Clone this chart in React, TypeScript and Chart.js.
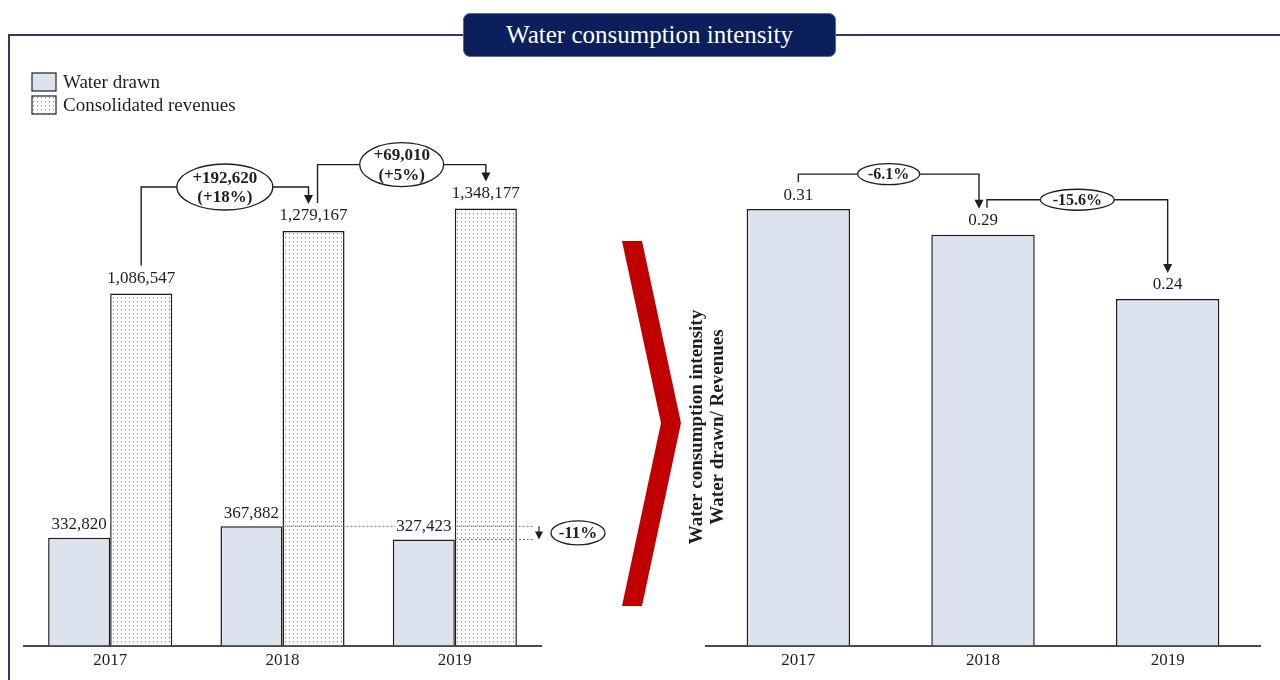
import React, { useEffect, useRef } from "react";
import { Chart, registerables } from "chart.js";
Chart.register(...registerables);

// ---------- data ----------
const years = ["2017", "2018", "2019"];
const waterDrawn = [332820, 367882, 327423];
const revenues = [1086547, 1279167, 1348177];
const intensity = [0.306, 0.288, 0.243];
const revenueChangeAbs = ["+192,620", "+69,010"];
const revenueChangePct = ["(+18%)", "(+5%)"];
const waterChangePct = "-11%";
const intensityChangePct = ["-6.1%", "-15.6%"];
const legendLabels = ["Water drawn", "Consolidated revenues"];
const titleText = "Water consumption intensity";
const intensityAxisTitle = ["Water consumption intensity", "Water drawn/ Revenues"];

const SERIF = '"Liberation Serif", "Times New Roman", serif';
const BAR_FILL = "#dce3ee";
const INK = "#1e1e1e";
const fmt = (v: number) => v.toLocaleString("en-US");

function makePattern(): CanvasPattern | string {
  const c = document.createElement("canvas");
  c.width = 4;
  c.height = 4;
  const g = c.getContext("2d");
  if (!g) return "#fff";
  g.fillStyle = "#ffffff";
  g.fillRect(0, 0, 4, 4);
  g.fillStyle = "#8a8a8a";
  g.fillRect(1, 1, 1, 1);
  g.fillStyle = "#d6d6d6";
  g.fillRect(1, 2, 1, 1);
  const p = g.createPattern(c, "repeat");
  return p || "#fff";
}

function arrowDown(ctx: CanvasRenderingContext2D, x: number, tipY: number, size = 9) {
  ctx.beginPath();
  ctx.moveTo(x - size / 2, tipY - size);
  ctx.lineTo(x + size / 2, tipY - size);
  ctx.lineTo(x, tipY);
  ctx.closePath();
  ctx.fillStyle = INK;
  ctx.fill();
}

function bracket(
  ctx: CanvasRenderingContext2D,
  x1: number,
  y1: number,
  x2: number,
  y2: number,
  level: number
) {
  ctx.save();
  ctx.strokeStyle = INK;
  ctx.lineWidth = 1.4;
  ctx.setLineDash([]);
  ctx.beginPath();
  ctx.moveTo(x1, y1);
  ctx.lineTo(x1, level);
  ctx.lineTo(x2, level);
  ctx.lineTo(x2, y2 - 6);
  ctx.stroke();
  arrowDown(ctx, x2, y2);
  ctx.restore();
}

function ellipseLabel(
  ctx: CanvasRenderingContext2D,
  cx: number,
  cy: number,
  rx: number,
  ry: number,
  lines: string[],
  size: number
) {
  ctx.save();
  ctx.setLineDash([]);
  ctx.beginPath();
  ctx.ellipse(cx, cy, rx, ry, 0, 0, Math.PI * 2);
  ctx.fillStyle = "#fff";
  ctx.fill();
  ctx.lineWidth = 1.3;
  ctx.strokeStyle = INK;
  ctx.stroke();
  ctx.fillStyle = INK;
  ctx.font = `bold ${size}px ${SERIF}`;
  ctx.textAlign = "center";
  ctx.textBaseline = "middle";
  const lh = size * 1.15;
  lines.forEach((t, i) => ctx.fillText(t, cx, cy + 1 + (i - (lines.length - 1) / 2) * lh));
  ctx.restore();
}

export default function App() {
  const leftRef = useRef<HTMLCanvasElement>(null);
  const rightRef = useRef<HTMLCanvasElement>(null);

  useEffect(() => {
    const pattern = makePattern();

    const xScale = {
      grid: { display: false, drawTicks: false },
      border: { display: true, color: "#4a4a4a", width: 2 },
      ticks: { color: INK, padding: 5, font: { family: SERIF, size: 17 } },
    };

    const leftPlugin = {
      id: "leftAnnotations",
      afterDatasetsDraw(chart: any) {
        const ctx: CanvasRenderingContext2D = chart.ctx;
        const w = chart.getDatasetMeta(0).data as any[];
        const r = chart.getDatasetMeta(1).data as any[];
        const area = chart.chartArea;
        ctx.save();

        // dotted comparison lines (2018 -> 2019 water drawn)
        ctx.strokeStyle = "#6a6a6a";
        ctx.lineWidth = 1;
        ctx.setLineDash([2, 2]);
        const endX = area.right - 8;
        ctx.beginPath();
        ctx.moveTo(w[1].x + w[1].width / 2, w[1].y);
        ctx.lineTo(endX, w[1].y);
        ctx.moveTo(w[2].x + w[2].width / 2, w[2].y);
        ctx.lineTo(endX, w[2].y);
        ctx.stroke();
        ctx.setLineDash([]);

        // data labels
        ctx.font = `17px ${SERIF}`;
        ctx.textAlign = "center";
        ctx.textBaseline = "middle";
        w.forEach((b, i) => {
          const t = fmt(waterDrawn[i]);
          const tw = ctx.measureText(t).width;
          ctx.fillStyle = "#fff";
          ctx.fillRect(b.x - tw / 2 - 1, b.y - 13 - 8, tw + 2, 16);
          ctx.fillStyle = INK;
          ctx.fillText(t, b.x, b.y - 13);
        });
        r.forEach((b, i) => {
          ctx.fillStyle = INK;
          ctx.fillText(fmt(revenues[i]), b.x, b.y - 15);
        });

        // revenue change brackets
        for (let i = 0; i < 2; i++) {
          const a = r[i];
          const b = r[i + 1];
          const level = Math.min(a.y, b.y) - 44;
          const x1 = i === 0 ? a.x : a.x + 4;
          const x2 = i === 0 ? b.x - 5 : b.x;
          bracket(ctx, x1, a.y - 28, x2, b.y - 27, level);
          const rx = i === 0 ? 48 : 42;
          const ry = i === 0 ? 23 : 22;
          ellipseLabel(ctx, (x1 + x2) / 2, level, rx, ry, [revenueChangeAbs[i], revenueChangePct[i]], 17);
        }

        // water change arrow
        const ax = area.right - 2;
        ctx.strokeStyle = INK;
        ctx.lineWidth = 1.2;
        ctx.beginPath();
        ctx.moveTo(ax, w[1].y);
        ctx.lineTo(ax, w[2].y - 5);
        ctx.stroke();
        arrowDown(ctx, ax, w[2].y, 8);
        ellipseLabel(ctx, area.right + 37, (w[1].y + w[2].y) / 2, 27, 12, [waterChangePct], 17);

        ctx.restore();
      },
      afterDraw(chart: any) {
        const ctx: CanvasRenderingContext2D = chart.ctx;
        ctx.save();
        const fills: (string | CanvasPattern)[] = [BAR_FILL, pattern];
        legendLabels.forEach((lab, i) => {
          const y = 73 + i * 23;
          ctx.fillStyle = fills[i] as any;
          ctx.fillRect(32, y, 24, 18);
          ctx.strokeStyle = INK;
          ctx.lineWidth = 1.2;
          ctx.strokeRect(32, y, 24, 18);
          ctx.fillStyle = INK;
          ctx.font = `19px ${SERIF}`;
          ctx.textAlign = "left";
          ctx.textBaseline = "middle";
          ctx.fillText(lab, 63, y + 10);
        });
        ctx.restore();
      },
    };

    const rightPlugin = {
      id: "rightAnnotations",
      afterDatasetsDraw(chart: any) {
        const ctx: CanvasRenderingContext2D = chart.ctx;
        const m = chart.getDatasetMeta(0).data as any[];
        ctx.save();
        ctx.font = `17px ${SERIF}`;
        ctx.textAlign = "center";
        ctx.textBaseline = "middle";
        ctx.fillStyle = INK;
        m.forEach((b, i) => ctx.fillText(intensity[i].toFixed(2), b.x, b.y - 14));

        for (let i = 0; i < 2; i++) {
          const a = m[i];
          const b = m[i + 1];
          const level = Math.min(a.y, b.y) - 35;
          const x1 = i === 0 ? a.x : a.x + 4;
          const x2 = i === 0 ? b.x - 4 : b.x;
          bracket(ctx, x1, a.y - 27, x2, b.y - 26, level);
          ellipseLabel(ctx, (x1 + x2) / 2, level, i === 0 ? 31 : 37, 10.5, [intensityChangePct[i]], 16);
        }

        // rotated axis title
        const area = chart.chartArea;
        ctx.fillStyle = INK;
        ctx.font = `bold 19px ${SERIF}`;
        intensityAxisTitle.forEach((t, i) => {
          ctx.save();
          ctx.translate(area.left - 9 + i * 21, 427);
          ctx.rotate(-Math.PI / 2);
          ctx.textAlign = "center";
          ctx.textBaseline = "middle";
          ctx.fillText(t, 0, 0);
          ctx.restore();
        });
        ctx.restore();
      },
    };

    const c1 = new Chart(leftRef.current as HTMLCanvasElement, {
      type: "bar",
      data: {
        labels: years,
        datasets: [
          {
            label: legendLabels[0],
            data: waterDrawn,
            backgroundColor: BAR_FILL,
            borderColor: INK,
            borderWidth: 1.5,
            categoryPercentage: 0.72,
            barPercentage: 1,
          },
          {
            label: legendLabels[1],
            data: revenues,
            backgroundColor: pattern as any,
            borderColor: INK,
            borderWidth: 1.5,
            categoryPercentage: 0.72,
            barPercentage: 1,
          },
        ],
      },
      options: {
        responsive: false,
        animation: false,
        devicePixelRatio: 1,
        layout: { padding: { left: 24, right: 79, top: 127, bottom: 4 } },
        plugins: { legend: { display: false }, tooltip: { enabled: false } },
        scales: {
          x: xScale as any,
          y: { display: false, min: 0, max: 1600000 },
        },
      },
      plugins: [leftPlugin],
    });

    const c2 = new Chart(rightRef.current as HTMLCanvasElement, {
      type: "bar",
      data: {
        labels: years,
        datasets: [
          {
            label: "Water consumption intensity",
            data: intensity,
            backgroundColor: BAR_FILL,
            borderColor: INK,
            borderWidth: 1.5,
            categoryPercentage: 0.56,
            barPercentage: 1,
          },
        ],
      },
      options: {
        responsive: false,
        animation: false,
        devicePixelRatio: 1,
        layout: { padding: { left: 86, right: 20, top: 75, bottom: 4 } },
        plugins: { legend: { display: false }, tooltip: { enabled: false } },
        scales: {
          x: xScale as any,
          y: { display: false, min: 0, max: 0.4 },
        },
      },
      plugins: [rightPlugin],
    });

    return () => {
      c1.destroy();
      c2.destroy();
    };
  }, []);

  return (
    <div
      style={{
        position: "absolute",
        left: 0,
        top: 0,
        width: 1280,
        height: 680,
        background: "#fff",
        overflow: "hidden",
        fontFamily: SERIF,
      }}
    >
      <div style={{ position: "absolute", left: 8, top: 34, width: 1272, height: 2, background: "#2b3b6b" }} />
      <div style={{ position: "absolute", left: 8, top: 34, width: 2, height: 646, background: "#2b3b6b" }} />
      <svg width={1280} height={680} style={{ position: "absolute", left: 0, top: 0 }}>
        <polygon points="622,241 642,241 681,423 642,606 622,606 661,423" fill="#c00000" />
      </svg>
      <canvas ref={leftRef} width={620} height={680} style={{ position: "absolute", left: 0, top: 0 }} />
      <canvas ref={rightRef} width={660} height={680} style={{ position: "absolute", left: 620, top: 0 }} />
      <div
        style={{
          position: "absolute",
          left: 463,
          top: 13,
          width: 373,
          height: 44,
          boxSizing: "border-box",
          background: "#0b1f5c",
          border: "1px solid #5a6a96",
          borderRadius: 7,
          color: "#fff",
          fontSize: 25,
          lineHeight: "42px",
          textAlign: "center",
        }}
      >
        {titleText}
      </div>
    </div>
  );
}
